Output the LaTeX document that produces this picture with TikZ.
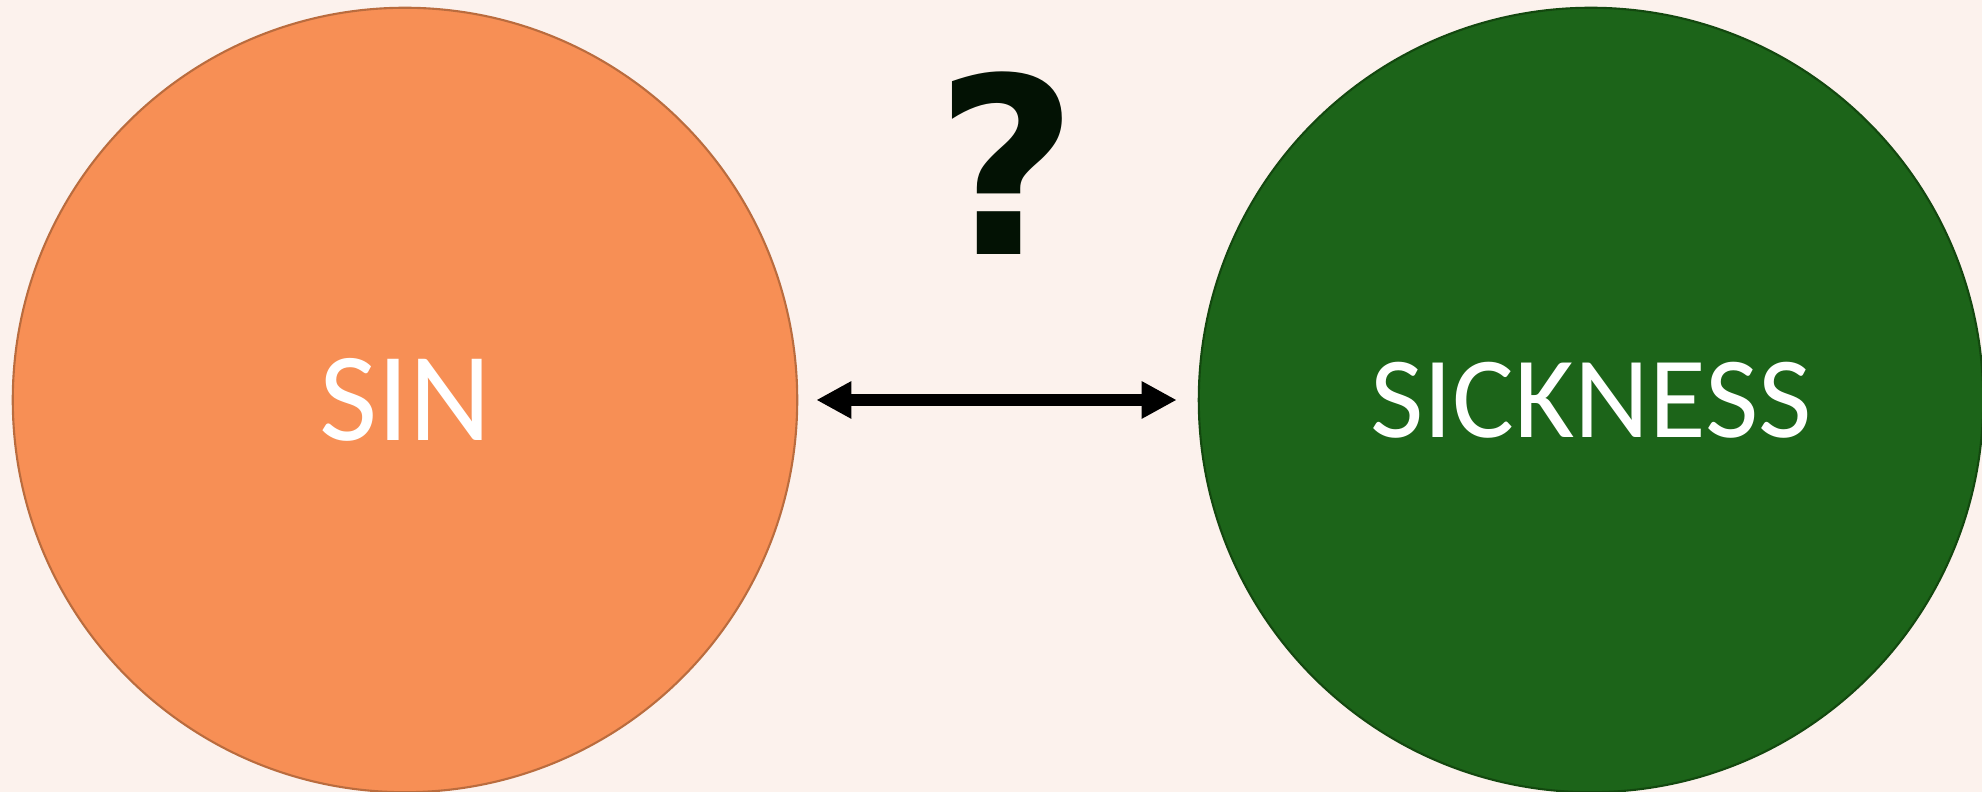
\documentclass[tikz,border=0pt]{standalone}
\usepackage{fontspec}
\setmainfont{Carlito}
\newfontfamily\quesfont{DejaVu Sans}
\usetikzlibrary{arrows.meta}
\definecolor{bgpeach}{HTML}{FCF2ED}
\definecolor{sinorange}{HTML}{F78F55}
\definecolor{sinborder}{HTML}{BA6C3E}
\definecolor{sickgreen}{HTML}{1C6419}
\definecolor{sickborder}{HTML}{13480F}
\definecolor{quesdark}{HTML}{031204}

\begin{document}
\begin{tikzpicture}[x=0.01cm, y=0.01cm]
\fill[bgpeach] (0,0) rectangle (1982,792);
\useasboundingbox (0,0) rectangle (1982,792);
  \begin{scope}[every node/.style={circle,minimum size=7.84cm,inner sep=0pt,line width=0.6pt,text=white}]
\node[fill=sinorange, draw=sinborder, font=\fontsize{36}{40}\selectfont](sin) at (405,392) {SIN};
\node[fill=sickgreen, draw=sickborder, font=\fontsize{33}{38}\selectfont](sickness) at (1591,392) {SICKNESS};
\end{scope}

\node[text=quesdark, font=\quesfont\bfseries\fontsize{70}{80}\selectfont](ques) at (1007,629) {?};
\draw[{Triangle[length=0.35cm,width=0.35cm]}-{Triangle[length=0.35cm,width=0.35cm]}, line width=3.2pt, shorten <=0.18cm, shorten >=0.21cm] (sin) -- (sickness);
\end{tikzpicture}
\end{document}
